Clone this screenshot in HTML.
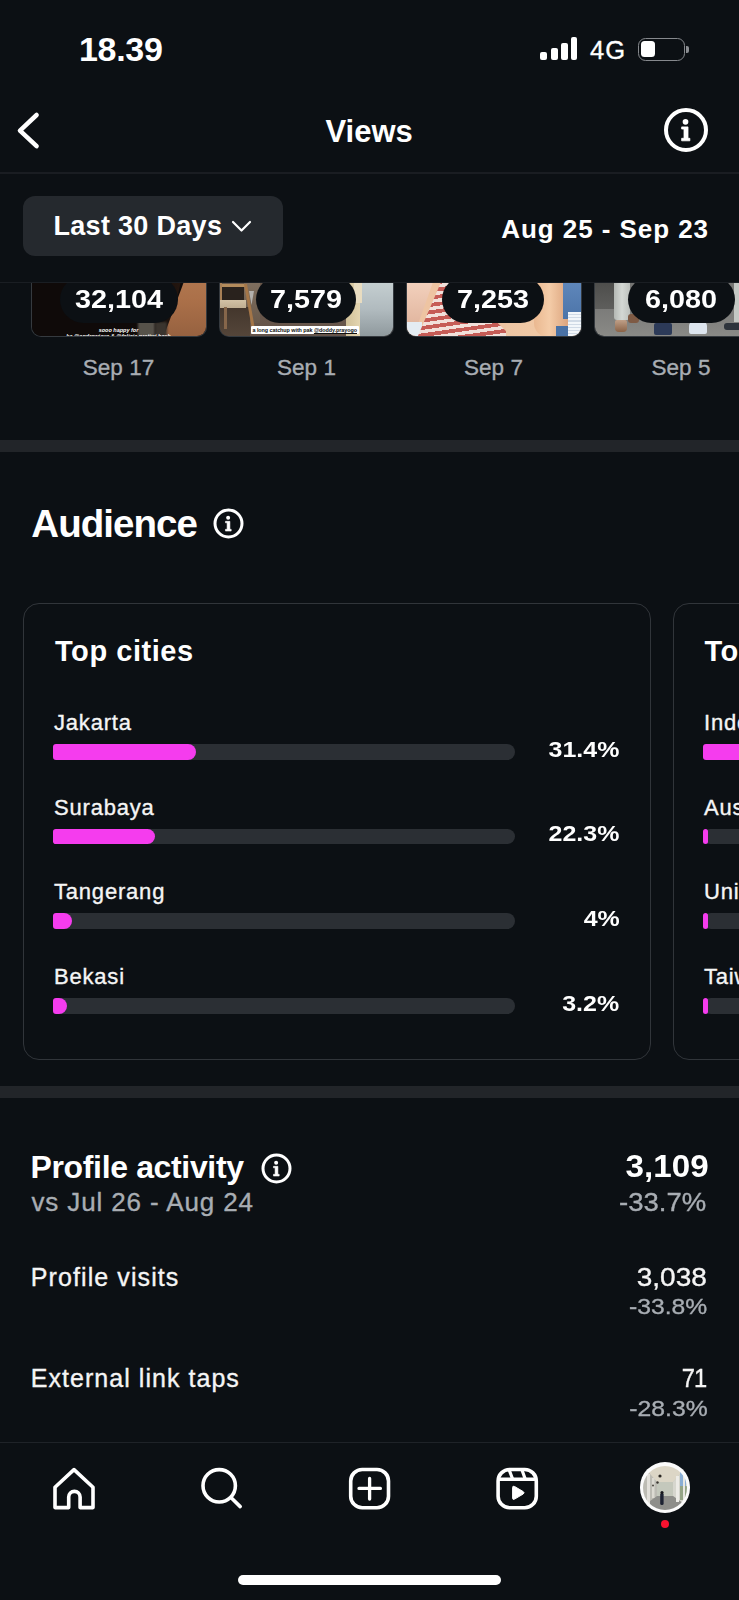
<!DOCTYPE html>
<html><head><meta charset="utf-8"><style>
html,body{margin:0;padding:0;}
body{width:739px;height:1600px;overflow:hidden;background:#0c1014;position:relative;font-family:"Liberation Sans",sans-serif;}
.abs{position:absolute;}
.t{position:absolute;line-height:1;white-space:nowrap;}
</style></head><body>
<div class="abs" style="left:31px;top:240px;width:175.5px;height:97px;box-sizing:border-box;border:1.5px solid #353a3f;border-top:none;border-radius:0 0 10px 10px;overflow:hidden"><div class="abs" style="left:-1.5px;top:0;width:175.5px;height:97px"><div class="abs" style="left:0px;top:0px;width:176px;height:100px;background:#0f0a09;"></div><div class="abs" style="left:120px;top:43px;width:30px;height:54px;background:linear-gradient(90deg,#0f0a09,#24160f);clip-path:polygon(70% 0,100% 0,60% 100%,10% 100%)"></div><div class="abs" style="left:128px;top:0px;width:48px;height:100px;background:linear-gradient(180deg,#b98259 0%,#ab7049 60%,#94603f 100%);clip-path:polygon(52% 43%,100% 43%,100% 100%,8% 100%)"></div><div class="abs" style="left:107px;top:81px;width:17px;height:16px;background:#56524a;filter:blur(1px)"></div><div class="abs" style="left:124px;top:82px;width:12px;height:15px;background:#3a342e;filter:blur(1px)"></div><div class="abs" style="left:-4px;top:86.5px;width:184px;text-align:center;font-size:5.5px;line-height:6.2px;font-weight:700;font-style:italic;color:#fff;white-space:nowrap">sooo happy for<br>ka @andrewjaya &amp; @felicia.pratiwi.hcsk</div></div></div>
<div class="abs" style="left:218.5px;top:240px;width:175.5px;height:97px;box-sizing:border-box;border:1.5px solid #353a3f;border-top:none;border-radius:0 0 10px 10px;overflow:hidden"><div class="abs" style="left:-1.5px;top:0;width:175.5px;height:97px"><div class="abs" style="left:0px;top:0px;width:176px;height:100px;background:linear-gradient(180deg,#6e5c4c,#65544a);"></div><div class="abs" style="left:26px;top:43px;width:16px;height:40px;background:linear-gradient(180deg,#7e6e5e,#6a5a4c);"></div><div class="abs" style="left:31px;top:51px;width:5px;height:14px;background:#b4b2ae;clip-path:polygon(0 0,100% 0,50% 100%)"></div><div class="abs" style="left:0px;top:67px;width:32px;height:30px;background:linear-gradient(180deg,#43362c,#55463a);"></div><div class="abs" style="left:2.5px;top:46px;width:23px;height:14px;background:#29221d;"></div><div class="abs" style="left:1px;top:43.5px;width:26px;height:3px;background:#b48c5c;"></div><div class="abs" style="left:1px;top:43px;width:2.5px;height:17px;background:#a88056;"></div><div class="abs" style="left:1px;top:59.5px;width:27px;height:8px;background:linear-gradient(180deg,#d2c2a6,#bfae92);"></div><div class="abs" style="left:26px;top:44px;width:3px;height:42px;background:#a47648;transform:skewX(10deg);transform-origin:0 0"></div><div class="abs" style="left:6px;top:67px;width:2.5px;height:22px;background:#86664a;"></div><div class="abs" style="left:128px;top:43px;width:16px;height:54px;background:linear-gradient(90deg,#d0c098,#e6d8b4);"></div><div class="abs" style="left:142px;top:43px;width:34px;height:54px;background:linear-gradient(180deg,#c4ced0 0%,#b0babe 50%,#8e989c 100%);"></div><div class="abs" style="left:136px;top:43px;width:8px;height:20px;background:#e8dcc0;"></div><div class="abs" style="left:32.5px;top:85.69999999999999px;width:108.5px;height:8px;background:#fff;border-radius:1px;font-size:5.4px;line-height:8px;font-weight:700;color:#111;letter-spacing:-0.05px;text-align:center;white-space:nowrap;overflow:hidden">a long catchup with pak <u>@doddy.prayogo</u></div></div></div>
<div class="abs" style="left:406px;top:240px;width:175.5px;height:97px;box-sizing:border-box;border:1.5px solid #353a3f;border-top:none;border-radius:0 0 10px 10px;overflow:hidden"><div class="abs" style="left:-1.5px;top:0;width:175.5px;height:97px"><div class="abs" style="left:0px;top:0px;width:176px;height:100px;background:#eec4a2;"></div><div class="abs" style="left:0px;top:43px;width:40px;height:54px;background:linear-gradient(180deg,#f2d0bc,#dcae96);clip-path:polygon(0 0,68% 0,20% 100%,0 100%)"></div><div class="abs" style="left:0px;top:82px;width:16px;height:15px;background:#e4ecf2;"></div><div class="abs" style="left:12px;top:43px;width:110px;height:54px;background:repeating-linear-gradient(172deg,#c65c56 0 3.8px,#f2e0da 3.8px 7.2px);clip-path:polygon(21% 0,82% 0,78% 40%,72% 72%,86% 100%,0 100%)"></div><div class="abs" style="left:100px;top:78px;width:60px;height:19px;background:linear-gradient(90deg,#eec6a4,#f2caa6);"></div><div class="abs" style="left:128px;top:43px;width:34px;height:54px;background:linear-gradient(90deg,#eab890,#f4cca8 45%,#dca47e);border-radius:0 0 14px 14px"></div><div class="abs" style="left:157px;top:43px;width:19px;height:36px;background:linear-gradient(180deg,#5e86ba,#4c74a8);"></div><div class="abs" style="left:162px;top:72px;width:14px;height:25px;background:repeating-linear-gradient(180deg,#f2f6fa 0 2px,#d0dae6 2px 3.2px);"></div><div class="abs" style="left:150px;top:86px;width:12px;height:11px;background:#4a72a6;"></div></div></div>
<div class="abs" style="left:593.5px;top:240px;width:175.5px;height:97px;box-sizing:border-box;border:1.5px solid #353a3f;border-top:none;border-radius:0 0 10px 10px;overflow:hidden"><div class="abs" style="left:-1.5px;top:0;width:175.5px;height:97px"><div class="abs" style="left:0px;top:0px;width:176px;height:100px;background:linear-gradient(180deg,#6a6a68 0%,#7c7c7a 70%,#8c8c88 100%);"></div><div class="abs" style="left:0px;top:43px;width:22px;height:26px;background:linear-gradient(180deg,#4e4e4c,#5e5e5c);"></div><div class="abs" style="left:21px;top:43px;width:16px;height:37px;background:linear-gradient(90deg,#b4b8b4,#d4d8d4 50%,#bcc0bc);border-radius:0 0 3px 3px"></div><div class="abs" style="left:22px;top:80px;width:12px;height:12px;background:linear-gradient(180deg,#c0a088,#8a6246);border-radius:2px 2px 4px 4px"></div><div class="abs" style="left:35px;top:74px;width:11px;height:9px;background:#7e5a44;border-radius:3px"></div><div class="abs" style="left:61px;top:83px;width:18px;height:12px;background:#2c3a58;border-radius:2px"></div><div class="abs" style="left:96px;top:81px;width:18px;height:13px;background:#dde5ee;border-radius:5px 5px 2px 2px"></div><div class="abs" style="left:101px;top:78px;width:12px;height:5px;background:#3c4e70;"></div><div class="abs" style="left:141px;top:43px;width:6px;height:39px;background:#c4c8c4;"></div><div class="abs" style="left:131px;top:83px;width:20px;height:7px;background:#2e343c;border-radius:3px"></div></div></div>
<div class="abs" style="left:59.5px;top:275.5px;width:118px;height:47px;background:#0c1014;border-radius:23.5px"></div>
<div class="t" style="top:286.51px;font-size:25.5px;font-weight:700;color:#ffffff;left:-81.5px;width:400px;text-align:center;transform:scaleX(1.128);transform-origin:50% 0;">32,104</div>
<div class="abs" style="left:256.2px;top:275.5px;width:100px;height:47px;background:#0c1014;border-radius:23.5px"></div>
<div class="t" style="top:286.51px;font-size:25.5px;font-weight:700;color:#ffffff;left:106.19999999999999px;width:400px;text-align:center;transform:scaleX(1.128);transform-origin:50% 0;">7,579</div>
<div class="abs" style="left:442.3px;top:275.5px;width:102px;height:47px;background:#0c1014;border-radius:23.5px"></div>
<div class="t" style="top:286.51px;font-size:25.5px;font-weight:700;color:#ffffff;left:293.3px;width:400px;text-align:center;transform:scaleX(1.128);transform-origin:50% 0;">7,253</div>
<div class="abs" style="left:627.8px;top:275.5px;width:107px;height:47px;background:#0c1014;border-radius:23.5px"></div>
<div class="t" style="top:286.51px;font-size:25.5px;font-weight:700;color:#ffffff;left:481.29999999999995px;width:400px;text-align:center;transform:scaleX(1.128);transform-origin:50% 0;">6,080</div>
<div class="t" style="top:356.75px;font-size:22.5px;font-weight:400;color:#a8adb3;-webkit-text-stroke:0.35px;left:-81.5px;width:400px;text-align:center;">Sep 17</div>
<div class="t" style="top:356.75px;font-size:22.5px;font-weight:400;color:#a8adb3;-webkit-text-stroke:0.35px;left:106.5px;width:400px;text-align:center;">Sep 1</div>
<div class="t" style="top:356.75px;font-size:22.5px;font-weight:400;color:#a8adb3;-webkit-text-stroke:0.35px;left:293.5px;width:400px;text-align:center;">Sep 7</div>
<div class="t" style="top:356.75px;font-size:22.5px;font-weight:400;color:#a8adb3;-webkit-text-stroke:0.35px;left:481px;width:400px;text-align:center;">Sep 5</div>
<div class="abs" style="left:0;top:0;width:739px;height:282.5px;background:#0c1014"></div>
<div class="abs" style="left:0;top:282px;width:739px;height:1px;background:#1a1e23"></div>
<div class="t" style="top:32.42px;font-size:34px;font-weight:700;color:#ffffff;letter-spacing:-0.3px;left:79px;">18.39</div>
<div class="abs" style="left:540px;top:51.5px;width:6.5px;height:8.5px;background:#fff;border-radius:2px"></div>
<div class="abs" style="left:551px;top:47.5px;width:6.5px;height:12.5px;background:#fff;border-radius:2px"></div>
<div class="abs" style="left:561px;top:42.5px;width:6.5px;height:17.5px;background:#fff;border-radius:2px"></div>
<div class="abs" style="left:570.5px;top:37px;width:6.5px;height:23px;background:#fff;border-radius:2px"></div>
<div class="t" style="top:37.61px;font-size:25.5px;font-weight:400;color:#ffffff;letter-spacing:1px;-webkit-text-stroke:0.35px;left:590px;">4G</div>
<div class="abs" style="left:637.5px;top:37.5px;width:47px;height:23.5px;box-sizing:border-box;border:1.8px solid #86898d;border-radius:7.5px"></div>
<div class="abs" style="left:641px;top:40.6px;width:14px;height:16.6px;background:#fff;border-radius:3.5px"></div>
<div class="abs" style="left:686px;top:46px;width:3px;height:7px;background:#8a8d91;border-radius:0 2px 2px 0"></div>
<svg class="abs" style="left:0;top:100px" width="80" height="65" viewBox="0 100 80 65"><path d="M36.6 115 L20 130.6 L36.6 146.2" fill="none" stroke="#fff" stroke-width="4.5" stroke-linecap="round" stroke-linejoin="round"/></svg>
<div class="t" style="top:116.26px;font-size:31px;font-weight:700;color:#ffffff;left:325.5px;">Views</div>
<svg class="abs" style="left:662px;top:106px" width="48" height="48" viewBox="662 106 48 48"><circle cx="686" cy="130" r="20" fill="none" stroke="#fff" stroke-width="4"/><circle cx="685.5" cy="121.8" r="2.85" fill="#fff"/><path d="M681.65 126.9 H688.0 V138.3 H689.85 V140.8 H681.65 V138.3 H684.0 V129.0 H681.65 Z" fill="#fff" stroke="#fff" stroke-width="0.8" stroke-linejoin="round"/></svg>
<div class="abs" style="left:0;top:172px;width:739px;height:1.5px;background:#1a1d22"></div>
<div class="abs" style="left:23px;top:196px;width:260px;height:60px;background:#25292e;border-radius:12px"></div>
<div class="t" style="top:212.64px;font-size:27px;font-weight:700;color:#ffffff;letter-spacing:0.3px;left:53.5px;">Last 30 Days</div>
<svg class="abs" style="left:228px;top:215px" width="28" height="22" viewBox="228 215 28 22"><path d="M233 222 L241.5 230.5 L250 222" fill="none" stroke="#fff" stroke-width="2.2" stroke-linecap="round" stroke-linejoin="round"/></svg>
<div class="t" style="top:216.49px;font-size:26px;font-weight:700;color:#ffffff;letter-spacing:0.93px;right:31px;text-align:right;margin-right:-0.93px;">Aug 25 - Sep 23</div>
<div class="abs" style="left:0;top:440px;width:739px;height:11.5px;background:#222529"></div>
<div class="abs" style="left:0;top:1086px;width:739px;height:11.5px;background:#222529"></div>
<div class="t" style="top:504.91px;font-size:38.5px;font-weight:700;color:#ffffff;letter-spacing:-0.95px;left:31.3px;">Audience</div>
<svg class="abs" style="left:212.0px;top:507.0px" width="33.0" height="33.0" viewBox="212.0 507.0 33.0 33.0"><circle cx="228.5" cy="523.5" r="13.5" fill="none" stroke="#fff" stroke-width="3"/><circle cx="228.15" cy="517.76" r="1.9949999999999999" fill="#fff"/><path d="M225.455 521.33 H229.9 V529.31 H231.195 V531.06 H225.455 V529.31 H227.1 V522.8 H225.455 Z" fill="#fff" stroke="#fff" stroke-width="0.5599999999999999" stroke-linejoin="round"/></svg>
<div class="abs" style="left:23px;top:603px;width:628px;height:457px;box-sizing:border-box;border:1.5px solid #31353a;border-radius:16px"></div>
<div class="abs" style="left:673px;top:603px;width:300px;height:457px;box-sizing:border-box;border:1.5px solid #31353a;border-radius:16px"></div>
<div class="t" style="top:636.95px;font-size:29px;font-weight:700;color:#ffffff;letter-spacing:0.55px;left:55px;">Top cities</div>
<div class="t" style="top:636.95px;font-size:29px;font-weight:700;color:#ffffff;letter-spacing:0.55px;left:704.4px;">To</div>
<div class="t" style="top:711.88px;font-size:22px;font-weight:400;color:#f5f5f5;letter-spacing:0.8px;-webkit-text-stroke:0.35px;left:54px;">Jakarta</div>
<div class="abs" style="left:53px;top:744.0px;width:462px;height:15.5px;background:#2b2f34;border-radius:8px"></div>
<div class="abs" style="left:53px;top:744.0px;width:143px;height:15.5px;background:#f53cee;border-radius:3px 8px 8px 3px"></div>
<div class="t" style="top:738.68px;font-size:22px;font-weight:700;color:#ffffff;right:119.60000000000002px;text-align:right;transform:scaleX(1.135);transform-origin:100% 0;">31.4%</div>
<div class="t" style="top:711.88px;font-size:22px;font-weight:400;color:#f5f5f5;letter-spacing:0.8px;-webkit-text-stroke:0.35px;left:704px;">Indonesia</div>
<div class="abs" style="left:703px;top:744.0px;width:400px;height:15.5px;background:#2b2f34;border-radius:8px"></div>
<div class="abs" style="left:703px;top:744.0px;width:236px;height:15.5px;background:#f53cee;border-radius:3px"></div>
<div class="t" style="top:796.58px;font-size:22px;font-weight:400;color:#f5f5f5;letter-spacing:0.8px;-webkit-text-stroke:0.35px;left:54px;">Surabaya</div>
<div class="abs" style="left:53px;top:828.7px;width:462px;height:15.5px;background:#2b2f34;border-radius:8px"></div>
<div class="abs" style="left:53px;top:828.7px;width:102px;height:15.5px;background:#f53cee;border-radius:3px 8px 8px 3px"></div>
<div class="t" style="top:823.38px;font-size:22px;font-weight:700;color:#ffffff;right:119.60000000000002px;text-align:right;transform:scaleX(1.135);transform-origin:100% 0;">22.3%</div>
<div class="t" style="top:796.58px;font-size:22px;font-weight:400;color:#f5f5f5;letter-spacing:0.8px;-webkit-text-stroke:0.35px;left:704px;">Australia</div>
<div class="abs" style="left:703px;top:828.7px;width:400px;height:15.5px;background:#2b2f34;border-radius:8px"></div>
<div class="abs" style="left:703px;top:828.7px;width:5px;height:15.5px;background:#f53cee;border-radius:3px"></div>
<div class="t" style="top:881.28px;font-size:22px;font-weight:400;color:#f5f5f5;letter-spacing:0.8px;-webkit-text-stroke:0.35px;left:54px;">Tangerang</div>
<div class="abs" style="left:53px;top:913.4px;width:462px;height:15.5px;background:#2b2f34;border-radius:8px"></div>
<div class="abs" style="left:53px;top:913.4px;width:19px;height:15.5px;background:#f53cee;border-radius:3px 8px 8px 3px"></div>
<div class="t" style="top:908.08px;font-size:22px;font-weight:700;color:#ffffff;right:119.60000000000002px;text-align:right;transform:scaleX(1.135);transform-origin:100% 0;">4%</div>
<div class="t" style="top:881.28px;font-size:22px;font-weight:400;color:#f5f5f5;letter-spacing:0.8px;-webkit-text-stroke:0.35px;left:704px;">United States</div>
<div class="abs" style="left:703px;top:913.4px;width:400px;height:15.5px;background:#2b2f34;border-radius:8px"></div>
<div class="abs" style="left:703px;top:913.4px;width:5px;height:15.5px;background:#f53cee;border-radius:3px"></div>
<div class="t" style="top:965.98px;font-size:22px;font-weight:400;color:#f5f5f5;letter-spacing:0.8px;-webkit-text-stroke:0.35px;left:54px;">Bekasi</div>
<div class="abs" style="left:53px;top:998.1px;width:462px;height:15.5px;background:#2b2f34;border-radius:8px"></div>
<div class="abs" style="left:53px;top:998.1px;width:14px;height:15.5px;background:#f53cee;border-radius:3px 8px 8px 3px"></div>
<div class="t" style="top:992.78px;font-size:22px;font-weight:700;color:#ffffff;right:119.60000000000002px;text-align:right;transform:scaleX(1.135);transform-origin:100% 0;">3.2%</div>
<div class="t" style="top:965.98px;font-size:22px;font-weight:400;color:#f5f5f5;letter-spacing:0.8px;-webkit-text-stroke:0.35px;left:704px;">Taiwan</div>
<div class="abs" style="left:703px;top:998.1px;width:400px;height:15.5px;background:#2b2f34;border-radius:8px"></div>
<div class="abs" style="left:703px;top:998.1px;width:5px;height:15.5px;background:#f53cee;border-radius:3px"></div>
<div class="t" style="top:1151.11px;font-size:32px;font-weight:700;color:#ffffff;letter-spacing:-0.35px;left:30.5px;">Profile activity</div>
<svg class="abs" style="left:260.3px;top:1151.5px" width="33.0" height="33.0" viewBox="260.3 1151.5 33.0 33.0"><circle cx="276.8" cy="1168" r="13.5" fill="none" stroke="#fff" stroke-width="3"/><circle cx="276.45" cy="1162.26" r="1.9949999999999999" fill="#fff"/><path d="M273.755 1165.83 H278.2 V1173.81 H279.495 V1175.56 H273.755 V1173.81 H275.40000000000003 V1167.3 H273.755 Z" fill="#fff" stroke="#fff" stroke-width="0.5599999999999999" stroke-linejoin="round"/></svg>
<div class="t" style="top:1188.99px;font-size:26px;font-weight:400;color:#a8adb3;letter-spacing:0.87px;-webkit-text-stroke:0.35px;left:31.5px;">vs Jul 26 - Aug 24</div>
<div class="t" style="top:1151.46px;font-size:31px;font-weight:700;color:#ffffff;right:30px;text-align:right;transform:scaleX(1.07);transform-origin:100% 0;">3,109</div>
<div class="t" style="top:1189.64px;font-size:25px;font-weight:400;color:#a8adb3;-webkit-text-stroke:0.35px;right:32.700000000000045px;text-align:right;transform:scaleX(1.1);transform-origin:100% 0;">-33.7%</div>
<div class="t" style="top:1264.64px;font-size:25px;font-weight:400;color:#f5f5f5;letter-spacing:1.09px;-webkit-text-stroke:0.35px;left:30.8px;">Profile visits</div>
<div class="t" style="top:1265.01px;font-size:25.5px;font-weight:400;color:#f5f5f5;-webkit-text-stroke:0.35px;right:32px;text-align:right;transform:scaleX(1.098);transform-origin:100% 0;">3,038</div>
<div class="t" style="top:1296.45px;font-size:22.5px;font-weight:400;color:#a8adb3;-webkit-text-stroke:0.35px;right:32.200000000000045px;text-align:right;transform:scaleX(1.097);transform-origin:100% 0;">-33.8%</div>
<div class="t" style="top:1366.04px;font-size:25px;font-weight:400;color:#f5f5f5;letter-spacing:1.04px;-webkit-text-stroke:0.35px;left:30.8px;">External link taps</div>
<div class="t" style="top:1365.91px;font-size:25.5px;font-weight:400;color:#f5f5f5;letter-spacing:-1px;-webkit-text-stroke:0.35px;right:32px;text-align:right;margin-right:1px;transform:scaleX(0.93);transform-origin:100% 0;">71</div>
<div class="t" style="top:1398.18px;font-size:22px;font-weight:400;color:#a8adb3;-webkit-text-stroke:0.35px;right:31.700000000000045px;text-align:right;transform:scaleX(1.125);transform-origin:100% 0;">-28.3%</div>
<div class="abs" style="left:0;top:1442px;width:739px;height:158px;background:#0c1014"></div>
<div class="abs" style="left:0;top:1442px;width:739px;height:1px;background:#1f2328"></div>
<svg class="abs" style="left:0;top:1440px" width="739" height="100" viewBox="0 1440 739 100"><path d="M55 1507.6 V1487.2 L74 1469.6 L93 1487.2 V1507.6 H80.1 V1497.1 A5.7 5.7 0 0 0 68.7 1497.1 V1507.6 Z" fill="none" stroke="#fff" stroke-width="3.6" stroke-linejoin="round"/><circle cx="219.2" cy="1485.8" r="16.2" fill="none" stroke="#fff" stroke-width="3.6"/><path d="M231.2 1497.8 L240.2 1506.6" stroke="#fff" stroke-width="3.6" stroke-linecap="round"/><rect x="350.7" y="1469.5" width="37.8" height="38.2" rx="11.5" fill="none" stroke="#fff" stroke-width="3.6"/><path d="M359 1488.4 H380.4 M369.6 1478.4 V1499" stroke="#fff" stroke-width="3.3" stroke-linecap="round"/><rect x="498.1" y="1469.5" width="38.2" height="38.2" rx="11.5" fill="none" stroke="#fff" stroke-width="3.6"/><path d="M498.1 1479.2 H536.3" stroke="#fff" stroke-width="3.6"/><path d="M509.2 1470 L512.6 1479 M522 1470 L525.2 1479" stroke="#fff" stroke-width="3.2"/><path d="M512.6 1487.6 Q512.6 1485.4 514.6 1486.5 L523.2 1491.6 Q525 1492.8 523.2 1494 L514.6 1499.1 Q512.6 1500.2 512.6 1498 Z" fill="#fff" stroke="#fff" stroke-width="1" stroke-linejoin="round"/></svg>
<div class="abs" style="left:639.8px;top:1462.4px;width:50.4px;height:50.4px;border-radius:50%;background:#fbfbfb"></div>
<svg class="abs" style="left:643px;top:1465.6px" width="44" height="44" viewBox="0 0 44 44"><defs><clipPath id="avc"><circle cx="22" cy="22" r="22"/></clipPath><filter id="avb"><feGaussianBlur stdDeviation="0.6"/></filter></defs><g clip-path="url(#avc)" filter="url(#avb)"><rect x="0" y="0" width="44" height="44" fill="#c9c6bc"/><polygon points="0,0 44,0 30,16 14,16" fill="#dcd6c6"/><polygon points="0,0 14,16 14,30 0,40" fill="#bdbcb4"/><polygon points="44,0 30,16 30,30 44,40" fill="#d6d6ce"/><rect x="14" y="16" width="16" height="14" fill="#c4c8bc"/><polygon points="0,40 14,30 30,30 44,40 44,44 0,44" fill="#8e8e8a"/><rect x="4" y="8" width="3" height="30" fill="#e2e0da"/><rect x="9" y="12" width="2.5" height="20" fill="#dcdad2"/><rect x="33" y="10" width="3" height="26" fill="#ecebe6"/><rect x="37" y="6" width="6" height="14" fill="#8aaed4"/><rect x="37" y="20" width="7" height="14" fill="#94a486"/><rect x="40" y="6" width="2" height="30" fill="#e8e8e2"/><circle cx="17" cy="10" r="1.6" fill="#2a2824"/><circle cx="14.5" cy="16.5" r="1.2" fill="#3a3630"/><circle cx="10" cy="19.5" r="1" fill="#4a463e"/><rect x="17.2" y="27" width="3.4" height="12" rx="1.5" fill="#1c2030"/><circle cx="19" cy="26.5" r="1.6" fill="#15171c"/></g></svg>
<div class="abs" style="left:660.8px;top:1519.8px;width:8px;height:8px;border-radius:50%;background:#f7122f"></div>
<div class="abs" style="left:238.3px;top:1574.5px;width:263px;height:10px;background:#fff;border-radius:5px"></div>
</body></html>
